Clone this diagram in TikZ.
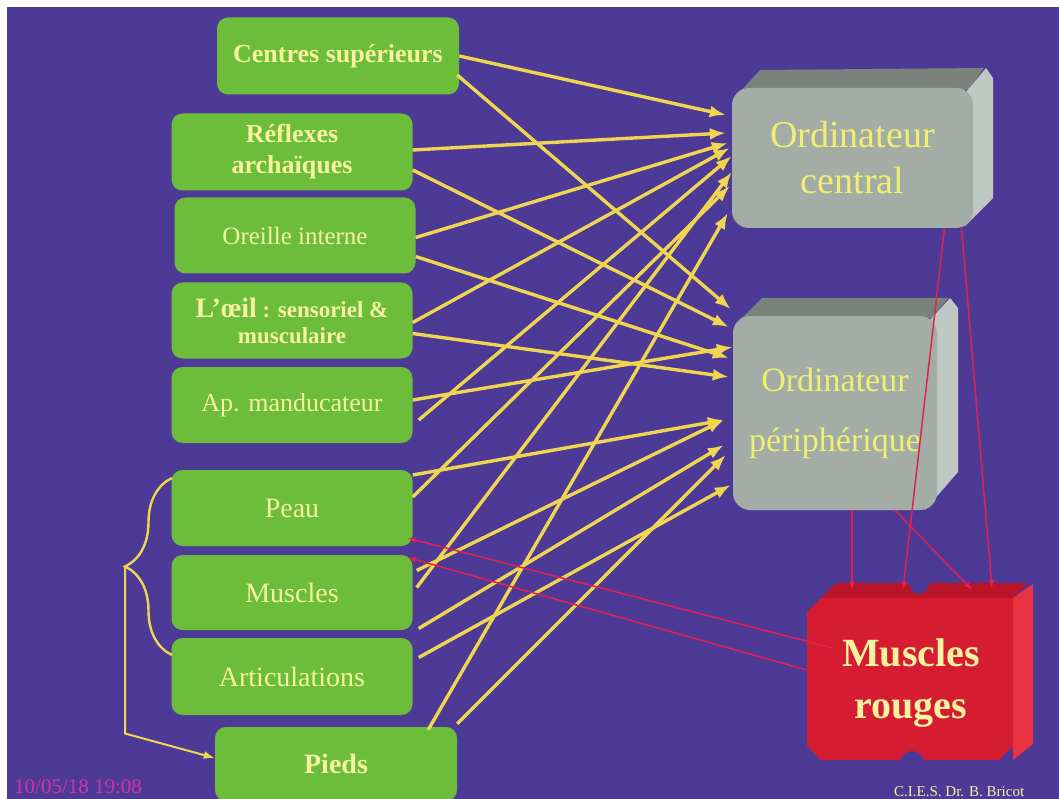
\documentclass[tikz,border=0pt]{standalone}
\usepackage{fontspec}
\setmainfont{Liberation Serif}
\usetikzlibrary{arrows.meta,decorations.pathreplacing}
\definecolor{bgpurple}{RGB}{76,58,150}
\definecolor{boxgreen}{RGB}{108,190,58}
\definecolor{pale}{RGB}{246,242,160}
\definecolor{compyel}{RGB}{240,240,112}
\definecolor{feedyel}{RGB}{240,214,80}
\definecolor{motred}{RGB}{226,32,82}
\definecolor{greyfront}{RGB}{164,172,166}
\definecolor{greytop}{RGB}{122,130,124}
\definecolor{greyside}{RGB}{192,200,196}
\definecolor{redfront}{RGB}{214,28,48}
\definecolor{redtop}{RGB}{186,20,40}
\definecolor{redside}{RGB}{234,52,68}
\definecolor{stamp}{RGB}{210,50,170}
\begin{document}
\begin{tikzpicture}[x=1pt,y=-1pt,
  box/.style={fill=boxgreen,rounded corners=11pt,minimum width=241pt,minimum height=76pt,
    text=pale,align=center,inner sep=2pt},
  comp/.style={fill=greyfront,rounded corners=17pt,text=compyel,align=center,inner sep=0pt},
  feed/.style={draw=feedyel,line width=3.4pt,-{Latex[length=16pt,width=12pt]}},
  motor/.style={draw=motred,line width=1.5pt,-{Latex[length=8pt,width=6pt]}},
  brk/.style={draw=feedyel,line width=2.4pt}]
\useasboundingbox (0,0) rectangle (1059,799);
\fill[white] (0,0) rectangle (1059,799);
\fill[bgpurple] (7,7) rectangle (1059,799);

% grey blocks, sides first
\fill[greytop] (740,92) -- (760,70) -- (984,68) -- (968,90) -- cycle;
\fill[greyside] (966,92) -- (986,68) -- (993,78) -- (993,198) -- (965,226) -- cycle;
\fill[greytop] (740,320) -- (762,298) -- (948,298) -- (932,318) -- cycle;
\fill[greyside] (930,320) -- (950,298) -- (958,308) -- (958,472) -- (925,510) -- cycle;

% red block
\fill[redside] (1013,598) -- (1033,584) -- (1033,744) -- (1013,760) -- cycle;
\fill[redtop] (821,598) -- (836,583) -- (1028,583) -- (1013,598) -- cycle;
\fill[redfront] (807,612) -- (821,598) -- (1013,598) -- (1013,746) -- (999,760)
  -- (821,760) -- (807,746) -- cycle;
\fill[bgpurple] (919,584) circle (10pt);
\fill[bgpurple] (912,763) circle (12pt);

% inputs
\node[box,minimum width=242pt,minimum height=77pt,font=\bfseries\fontsize{26}{30}\selectfont] (cs) at (338,56) {Centres supérieurs};
\node[box,minimum height=77pt,font=\bfseries\fontsize{26}{31}\selectfont] (ra) at (292,152) {Réflexes\\archaïques};
\node[box,font=\fontsize{25}{29}\selectfont] (oi) at (295,235.5) {Oreille interne};
\node[box,font=\bfseries\fontsize{23}{26}\selectfont] (oe) at (292,320.5) {{\fontsize{28}{26}\selectfont L’œil} : sensoriel \&\\musculaire};
\node[box,font=\fontsize{26}{30}\selectfont] (am) at (292,405) {Ap. manducateur};
\node[box,font=\fontsize{28}{32}\selectfont] (pe) at (292,508) {Peau};
\node[box,minimum height=75pt,font=\fontsize{28}{32}\selectfont] (mu) at (292,592.5) {Muscles};
\node[box,minimum height=77pt,font=\fontsize{28}{32}\selectfont] (ar) at (292,676.5) {Articulations};
\node[box,minimum width=242pt,minimum height=74pt,font=\bfseries\fontsize{28}{32}\selectfont] (pi) at (336,764) {Pieds};

% computers
\node[comp,minimum width=241pt,minimum height=140pt,font=\fontsize{38}{46}\selectfont] (oc) at (852.5,158) {Ordinateur\\central};
\node[comp,minimum width=204pt,minimum height=194pt,font=\fontsize{34}{60}\selectfont] (op) at (835,413) {Ordinateur\\périphérique};
\node[minimum width=208pt,minimum height=202pt,text=pale,align=center,font=\bfseries\fontsize{40}{52}\selectfont] (mr) at (911,683) {Muscles\\rouges};

% to the central computer
\draw[feed] (cs.east) -- ([xshift=-6pt,yshift=43pt]oc.west);
\draw[feed] ([yshift=2pt]ra.east) -- ([xshift=-6pt,yshift=25pt]oc.west);
\draw[feed] ([yshift=-2pt]oi.east) -- ([xshift=-4pt,yshift=15pt]oc.west);
\draw[feed] ([yshift=-2pt]oe.east) -- ([xshift=-2pt,yshift=10pt]oc.west);
\draw[feed] ([xshift=6pt,yshift=-15pt]am.east) -- ([yshift=2pt]oc.west);
\draw[feed] ([yshift=11pt]pe.east) -- ([xshift=-2pt,yshift=-28pt]oc.west);
\draw[feed] ([xshift=4pt,yshift=5pt]mu.east) -- ([yshift=-14pt]oc.west);
\draw[feed] ([xshift=-29pt,yshift=-3pt]pi.north east) -- ([xshift=-4pt,yshift=-55pt]oc.west);

% to the peripheral computer
\draw[feed] ([xshift=-2pt,yshift=-19pt]cs.east) -- ([xshift=-2pt,yshift=104pt]op.west);
\draw[feed] ([yshift=-18pt]ra.east) -- ([xshift=-4pt,yshift=86pt]op.west);
\draw[feed] ([yshift=5pt]am.east) -- ([yshift=66pt]op.west);
\draw[feed] ([yshift=-21pt]oi.east) -- ([xshift=-4pt,yshift=55pt]op.west);
\draw[feed] ([yshift=-13pt]oe.east) -- ([xshift=-4pt,yshift=36pt]op.west);
\draw[feed] ([yshift=33pt]pe.east) -- ([xshift=-9pt,yshift=-7pt]op.west);
\draw[feed] ([xshift=4pt,yshift=22pt]mu.east) -- ([xshift=-9pt,yshift=-7pt]op.west);
\draw[feed] ([xshift=6pt,yshift=-36pt]mu.east) -- ([xshift=-9pt,yshift=-32pt]op.west);
\draw[feed] ([yshift=3pt]pi.north east) -- ([xshift=-7pt,yshift=-42pt]op.west);
\draw[feed] ([xshift=6pt,yshift=19pt]ar.east) -- ([xshift=-2pt,yshift=-72pt]op.west);

% motor side
\draw[motor] ([xshift=92pt]oc.south) -- ([xshift=-8pt,yshift=-8pt]mr.north);
\draw[motor] ([xshift=109pt]oc.south) -- ([xshift=81pt,yshift=-6pt]mr.north);
\draw[motor] ([xshift=17pt]op.south) -- ([xshift=-59pt,yshift=-8pt]mr.north);
\draw[motor] ([xshift=60pt]op.south) -- ([xshift=61pt,yshift=-8pt]mr.north);
\draw[motor] ([xshift=26pt,yshift=35pt]mr.west) -- ([xshift=-5pt,yshift=-30pt]pe.east);
\draw[motor] ([yshift=13pt]mr.west) -- ([xshift=-5pt,yshift=35pt]mu.east);

% brace to the feet
\draw[brk,decorate,decoration={brace,amplitude=47pt}] (172,655) -- (172,478);
\coordinate (bt) at (125,566.5);
\draw[brk,line width=2pt,-{Latex[length=11pt,width=8pt]}] (bt) -- ++(0,167) -- ([yshift=6pt]pi.west);

\node[anchor=base west,text=stamp,inner sep=0pt,font=\fontsize{21}{21}\selectfont] (date) at (14,793) {10/05/18 19:08};
\node[anchor=base west,text=pale,inner sep=0pt,font=\fontsize{15}{15}\selectfont] (cred) at (894,796) {C.I.E.S. Dr. B. Bricot};
\end{tikzpicture}
\end{document}
